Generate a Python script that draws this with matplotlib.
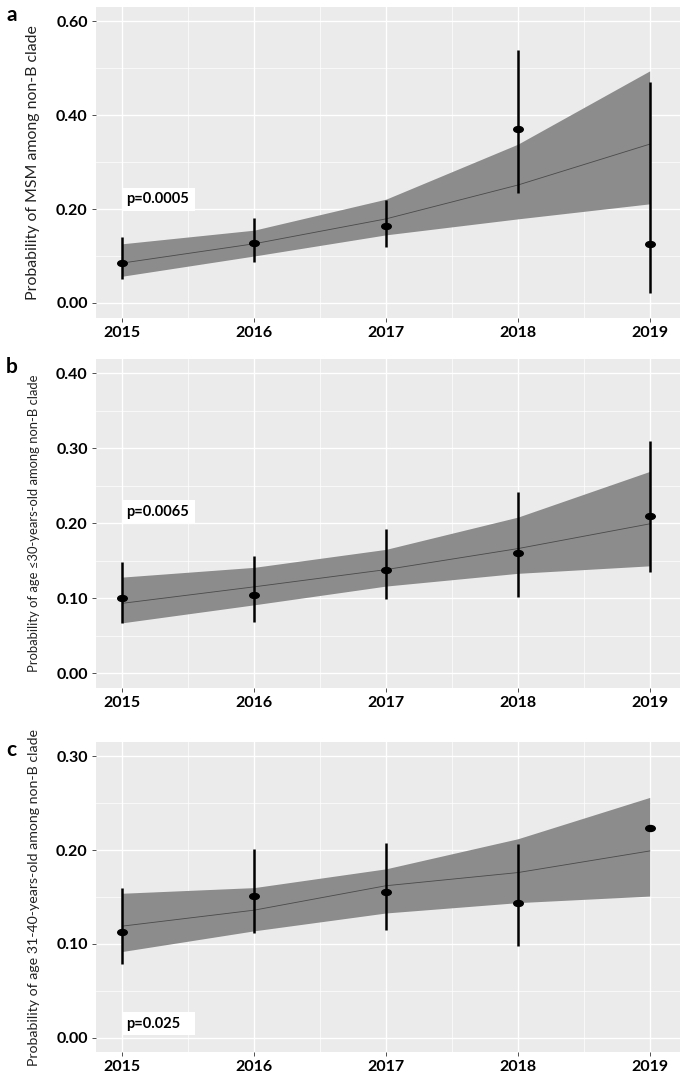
import numpy as np
import matplotlib
matplotlib.use("Agg")
import matplotlib.pyplot as plt
from matplotlib.markers import MarkerStyle
from matplotlib.transforms import Affine2D
from matplotlib.patches import Rectangle

plt.rcParams['font.family'] = ['Lato', 'DejaVu Sans']

years = [2015, 2016, 2017, 2018, 2019]

# panel a: MSM
obs_a = [0.085, 0.128, 0.164, 0.370, 0.126]
lo_a = [0.051, 0.087, 0.119, 0.234, 0.021]
hi_a = [0.140, 0.181, 0.219, 0.538, 0.470]
fit_a = [0.085, 0.126, 0.179, 0.251, 0.338]
band_lo_a = [0.057, 0.100, 0.145, 0.179, 0.211]
band_hi_a = [0.126, 0.155, 0.221, 0.338, 0.494]

# panel b: age <=30
obs_b = [0.100, 0.104, 0.138, 0.160, 0.209]
lo_b = [0.067, 0.068, 0.099, 0.101, 0.135]
hi_b = [0.148, 0.156, 0.192, 0.241, 0.310]
fit_b = [0.093, 0.115, 0.138, 0.166, 0.199]
band_lo_b = [0.067, 0.091, 0.116, 0.133, 0.143]
band_hi_b = [0.128, 0.141, 0.165, 0.208, 0.269]

# panel c: age 31-40 (no interval shown for 2019)
obs_c = [0.113, 0.151, 0.155, 0.144, 0.223]
lo_c = [0.079, 0.112, 0.115, 0.098, np.nan]
hi_c = [0.160, 0.201, 0.207, 0.206, np.nan]
fit_c = [0.119, 0.136, 0.162, 0.176, 0.199]
band_lo_c = [0.092, 0.114, 0.133, 0.144, 0.151]
band_hi_c = [0.154, 0.160, 0.180, 0.212, 0.256]

panels = [
    dict(letter='a', obs=obs_a, lo=lo_a, hi=hi_a, fit=fit_a, blo=band_lo_a, bhi=band_hi_a,
         ylabel='Probability of MSM among non-B clade', ylab_size=11.4,
         yticks=[0.0, 0.2, 0.4, 0.6], ylim=(-0.032, 0.630),
         ptxt='p=0.0005', py=0.221, rect=[96, 7, 680, 318]),
    dict(letter='b', obs=obs_b, lo=lo_b, hi=hi_b, fit=fit_b, blo=band_lo_b, bhi=band_hi_b,
         ylabel='Probability of age \u226430-years-old among non-B clade', ylab_size=9.4,
         yticks=[0.0, 0.1, 0.2, 0.3, 0.4], ylim=(-0.020, 0.419),
         ptxt='p=0.0065', py=0.215, rect=[96, 359, 680, 688]),
    dict(letter='c', obs=obs_c, lo=lo_c, hi=hi_c, fit=fit_c, blo=band_lo_c, bhi=band_hi_c,
         ylabel='Probability of age 31-40-years-old among non-B clade', ylab_size=10.2,
         yticks=[0.0, 0.1, 0.2, 0.3], ylim=(-0.015, 0.315),
         ptxt='p=0.025', py=0.015, rect=[96, 742, 680, 1052]),
]

W, H = 685, 1081
fig = plt.figure(figsize=(W / 100, H / 100), dpi=100)
fig.patch.set_facecolor('white')

bg = '#EBEBEB'
xlim = (2014.8, 2019.23)
ellipse = MarkerStyle('o', transform=Affine2D().scale(1.6, 1.0))

for p in panels:
    l, t, r, b = p['rect']
    ax = fig.add_axes([l / W, 1 - b / H, (r - l) / W, (b - t) / H])
    ax.set_facecolor(bg)
    for s in ax.spines.values():
        s.set_visible(False)

    ax.set_xlim(*xlim)
    ax.set_ylim(*p['ylim'])
    ax.set_xticks(years)
    ax.set_xticks([y + 0.5 for y in years[:-1]], minor=True)
    yt = p['yticks']
    ax.set_yticks(yt)
    ax.set_yticks([(a + c) / 2 for a, c in zip(yt[:-1], yt[1:])], minor=True)
    ax.set_yticklabels([f'{v:.2f}' for v in yt])
    ax.set_xticklabels([str(y) for y in years])
    ax.tick_params(which='major', length=3, width=0.6, color='#333333', pad=3,
                   labelsize=11.5)
    ax.tick_params(which='minor', length=0)
    for lab in ax.get_xticklabels() + ax.get_yticklabels():
        lab.set_fontweight('bold')
    ax.grid(which='major', color='white', linewidth=1.0)
    ax.grid(which='minor', color='white', linewidth=0.5)
    ax.set_axisbelow(True)

    ax.fill_between(years, p['blo'], p['bhi'], color='#8C8C8C', linewidth=0, zorder=2)
    ax.plot(years, p['fit'], color='#4A4A4A', linewidth=0.6, zorder=3)
    ax.vlines(years, p['lo'], p['hi'], color='black', linewidth=1.8, zorder=4)
    ax.plot(years, p['obs'], linestyle='none', marker=ellipse, markersize=4.3,
            color='black', zorder=5)

    # p-value label on a white box
    x0, x1 = ax.get_xlim()
    y0, y1 = ax.get_ylim()
    bw = 73 / (r - l) * (x1 - x0)
    bh = 23 / (b - t) * (y1 - y0)
    ax.add_patch(Rectangle((2015.0, p['py'] - bh / 2), bw, bh, facecolor='white',
                           edgecolor='none', zorder=6))
    ax.text(2015.03, p['py'], p['ptxt'], ha='left', va='center', fontsize=10.5,
            fontweight='bold', zorder=7)

    ax.set_ylabel(p['ylabel'], fontsize=p['ylab_size'], color='#222222', labelpad=4)
    ax.yaxis.set_label_coords(-(l - 40) / (r - l), 0.5)
    fig.text(6 / W, 1 - (t + 8) / H, p['letter'], fontsize=15, fontweight='bold',
             va='center', ha='left')

fig.savefig('out.png', dpi=100, facecolor='white')
